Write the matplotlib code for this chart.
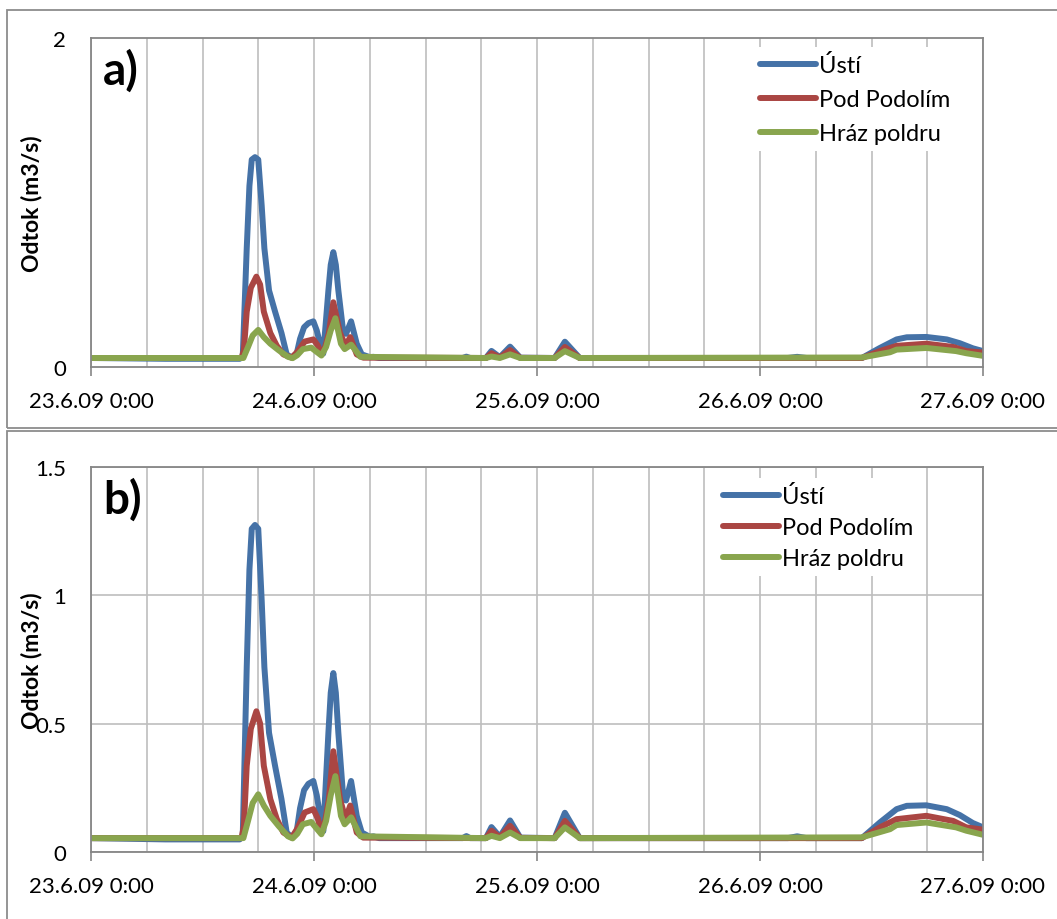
import matplotlib
matplotlib.use("Agg")
import matplotlib.pyplot as plt
from matplotlib.patches import Rectangle
from datetime import datetime, timedelta

# ---------------- data ----------------
start = datetime(2009, 6, 23, 0, 0)
tick_labels = ["23.6.09 0:00", "24.6.09 0:00", "25.6.09 0:00", "26.6.09 0:00", "27.6.09 0:00"]
series_names = ["Ústí", "Pod Podolím", "Hráz poldru"]

# hours since 23.6.09 0:00 and discharge (m3/s)
usti_h = [0, 8, 16.0, 16.33, 16.76, 17.05, 17.3, 17.65, 18.0, 18.37, 18.66, 19.16, 19.81, 20.5,
          21.06, 21.6, 22.14, 22.5, 22.93, 23.4, 23.93, 24.3, 24.65, 25.0, 25.55, 25.8, 26.08,
          26.35, 26.62, 27.16, 27.45, 27.99, 28.6, 29.14, 30.0, 30.4, 31.0, 40.0, 40.4, 40.8,
          42.5, 43.1, 44.0, 45.1, 46.2, 49.9, 51.0, 52.6, 75.0, 76.0, 77.0, 82.96, 84.9, 86.7,
          87.8, 89.9, 92.1, 93.5, 94.9, 96.0]
usti_v = [0.053, 0.048, 0.048, 0.06, 0.72, 1.10, 1.26, 1.275, 1.26, 0.98, 0.72, 0.464, 0.335, 0.205,
          0.075, 0.056, 0.08, 0.17, 0.24, 0.265, 0.276, 0.22, 0.14, 0.08, 0.464, 0.62, 0.697,
          0.62, 0.464, 0.205, 0.20, 0.276, 0.14, 0.075, 0.058, 0.06, 0.053, 0.053, 0.061, 0.053,
          0.053, 0.096, 0.058, 0.122, 0.055, 0.053, 0.152, 0.053, 0.053, 0.06, 0.053, 0.053, 0.114, 0.166,
          0.179, 0.181, 0.166, 0.143, 0.112, 0.095]

podolim_h = [0, 16.2, 16.45, 16.76, 17.2, 17.8, 18.2, 18.6, 19.3, 20.0, 20.7, 21.6, 22.2, 23.0,
             23.93, 24.4, 24.8, 25.2, 25.6, 26.08, 26.8, 27.4, 27.9, 28.6, 29.3, 42.5, 43.1,
             44.0, 45.1, 46.2, 49.9, 51.0, 52.6, 82.96, 84.9, 86.7, 89.9, 92.8, 94.2, 96.0]
podolim_v = [0.053, 0.053, 0.10, 0.335, 0.48, 0.548, 0.50, 0.335, 0.205, 0.127, 0.075, 0.055, 0.09,
             0.153, 0.166, 0.13, 0.075, 0.12, 0.205, 0.392, 0.205, 0.127, 0.18, 0.075, 0.055, 0.053,
             0.082, 0.056, 0.101, 0.054, 0.053, 0.12, 0.053, 0.053, 0.095, 0.127, 0.14, 0.12, 0.095,
             0.086]

hraz_h = [0, 16.4, 16.9, 17.4, 18.0, 18.6, 19.3, 20.2, 21.2, 21.7, 22.2, 22.8, 23.7, 24.2, 24.8,
          25.3, 25.8, 26.3, 26.9, 27.3, 28.0, 29.0, 42.5, 43.1, 44.0, 45.1, 46.2, 49.9, 51.0,
          52.6, 82.96, 86.0, 86.7, 89.9, 93.1, 94.2, 96.0]
hraz_v = [0.053, 0.053, 0.12, 0.19, 0.224, 0.18, 0.14, 0.10, 0.06, 0.052, 0.07, 0.107, 0.116, 0.094,
          0.068, 0.12, 0.22, 0.295, 0.14, 0.107, 0.134, 0.06, 0.053, 0.062, 0.053, 0.075, 0.053,
          0.053, 0.095, 0.053, 0.056, 0.088, 0.104, 0.114, 0.095, 0.082, 0.066]

colors = ["#4572A7", "#AA4643", "#89A54E"]

# ---------------- figure ----------------
plt.rcParams["font.family"] = ["Lato", "DejaVu Sans"]
W, H = 1057, 920
fig = plt.figure(figsize=(W / 100, H / 100), dpi=100)


def fx(px):
    return px / W


def fy(py):
    return 1 - py / H


# panel frames
fig.add_artist(Rectangle((fx(7), fy(429)), fx(1100 - 7), fy(11) - fy(429), transform=fig.transFigure,
                         fill=False, edgecolor="#8C8C8C", linewidth=1.3))
fig.add_artist(Rectangle((fx(7), fy(960)), fx(1100 - 7), fy(432) - fy(960), transform=fig.transFigure,
                         fill=False, edgecolor="#8C8C8C", linewidth=1.3))

panels = [
    dict(top=39, bottom=367.7, ymax=2.0, yticks=[0, 2], ylabels=["0", "2"], hgrid=False,
         tag="a)", leg_x=753, leg_top=48, spacing=0.55),
    dict(top=468.3, bottom=852.7, ymax=1.5, yticks=[0, 0.5, 1, 1.5], ylabels=["0", "0.5", "1", "1.5"],
         hgrid=True, tag="b)", leg_x=716, leg_top=479, spacing=0.42),
]

xs = [[start + timedelta(hours=h) for h in hh] for hh in (usti_h, podolim_h, hraz_h)]
ys = [usti_v, podolim_v, hraz_v]
day_ticks = [start + timedelta(days=d) for d in range(5)]
minor_ticks = [start + timedelta(hours=6 * k) for k in range(17)]

left, right = 91, 983
for p in panels:
    ax = fig.add_axes([fx(left), fy(p["bottom"]), fx(right) - fx(left), fy(p["top"]) - fy(p["bottom"])])
    for x, y, c, n in zip(xs, ys, colors, series_names):
        ax.plot(x, y, color=c, lw=4.3, label=n, solid_capstyle="round", solid_joinstyle="round")
    ax.set_xlim(day_ticks[0], day_ticks[-1])
    ax.set_ylim(0, p["ymax"])
    ax.set_xticks(day_ticks)
    ax.set_xticklabels(tick_labels)
    ax.set_xticks(minor_ticks, minor=True)
    ax.set_yticks(p["yticks"])
    ax.set_yticklabels(p["ylabels"])
    ax.tick_params(axis="x", which="major", length=6.5, width=1.2, color="#868686", pad=11,
                   labelsize=16)
    ax.tick_params(axis="x", which="minor", length=0)
    ax.tick_params(axis="y", length=0, pad=18, labelsize=16)
    ax.grid(True, axis="x", which="both", color="#BEBEBE", lw=1.2)
    if p["hgrid"]:
        ax.grid(True, axis="y", which="major", color="#BEBEBE", lw=1.2)
    ax.set_axisbelow(True)
    for s in ax.spines.values():
        s.set_color("#868686")
        s.set_linewidth(1.3)
    ax.set_ylabel("Odtok (m3/s)", fontsize=16.5, fontweight="bold", va="center")
    ax.yaxis.set_label_coords(-(left - 31) / (right - left), 0.5)
    ax.text(fx(103), fy(p["top"] + 32), p["tag"], transform=fig.transFigure, fontsize=33,
            fontweight="bold", va="center", ha="left")
    leg = ax.legend(loc="upper left",
                    bbox_to_anchor=(fx(p["leg_x"]), fy(p["leg_top"])),
                    bbox_transform=fig.transFigure,
                    frameon=True, fontsize=17, handlelength=2.35, handletextpad=0.15,
                    labelspacing=p["spacing"], borderpad=0.3, borderaxespad=0)
    leg.get_frame().set_edgecolor("none")
    leg.get_frame().set_facecolor("white")
    leg.get_frame().set_alpha(1)

fig.savefig("out.png", dpi=100)
